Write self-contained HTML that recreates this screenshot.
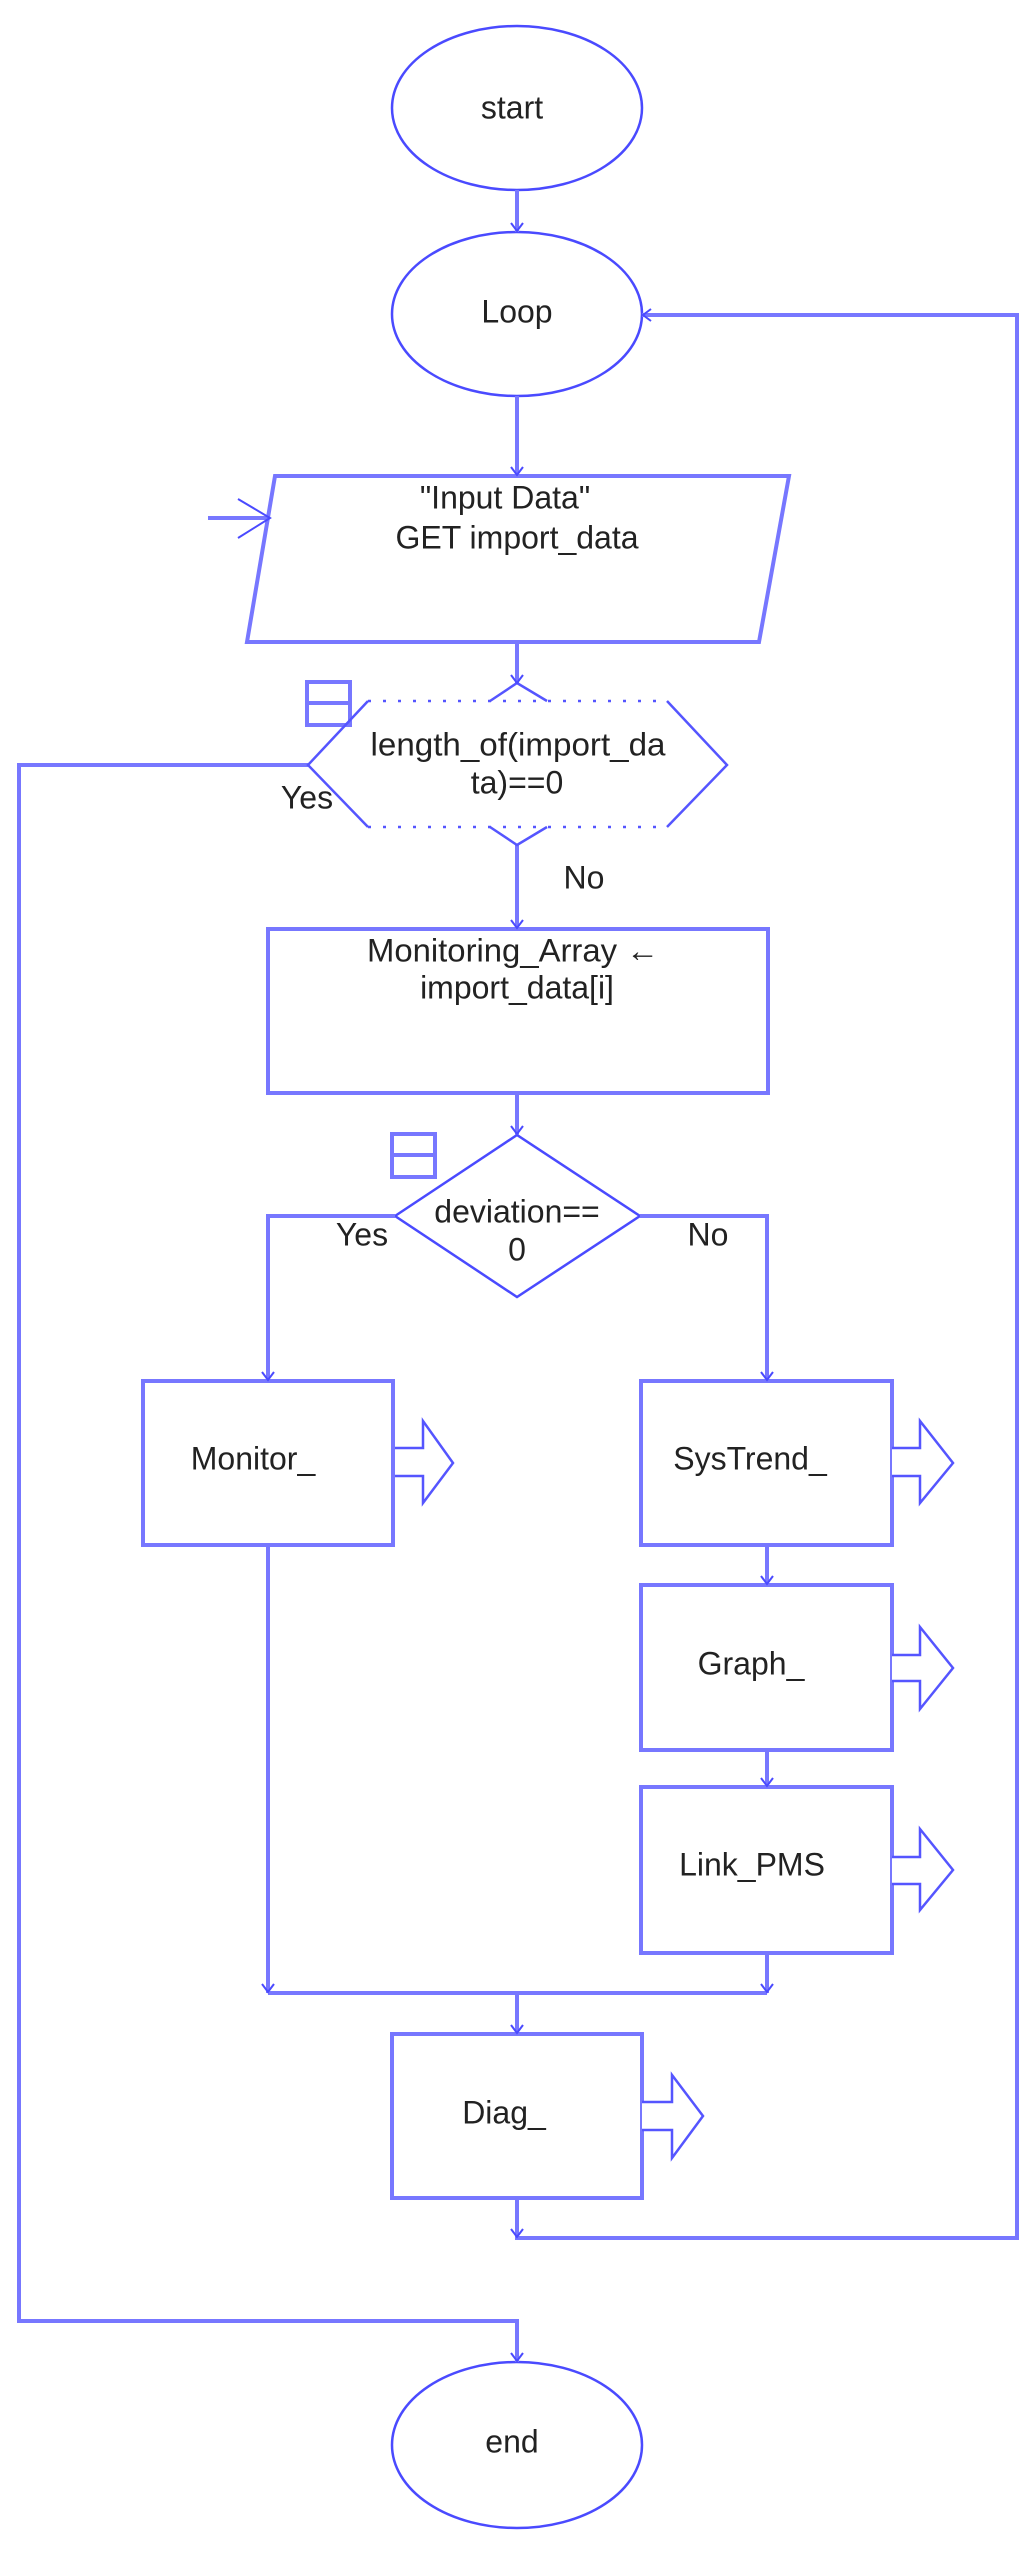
<!DOCTYPE html>
<html><head><meta charset="utf-8"><style>
html,body{margin:0;padding:0;background:#fff;}
svg{display:block;}
text{font-family:"Liberation Sans",Arial,sans-serif;font-size:32px;fill:#222;text-anchor:middle;dominant-baseline:middle;}
</style></head><body>
<svg width="1033" height="2553" viewBox="0 0 1033 2553" xmlns="http://www.w3.org/2000/svg">
<g fill="none" stroke="#4a4aff" stroke-width="2.5">
<ellipse cx="517" cy="108" rx="125" ry="82" fill="#fff"/>
<ellipse cx="517" cy="314" rx="125" ry="82" fill="#fff"/>
<ellipse cx="517" cy="2445" rx="125" ry="83" fill="#fff"/>
<polygon points="395,1216 517,1135 640,1216 517,1297"/>
</g>
<g fill="none" stroke="#7777ff" stroke-width="4">
<!-- connectors -->
<line x1="517" y1="190" x2="517" y2="232"/>
<line x1="517" y1="396" x2="517" y2="476"/>
<line x1="517" y1="642" x2="517" y2="683"/>
<line x1="517" y1="845" x2="517" y2="929"/>
<line x1="517" y1="1093" x2="517" y2="1135"/>
<polyline points="395,1216 268,1216 268,1381"/>
<polyline points="640,1216 767,1216 767,1381"/>
<line x1="767" y1="1545" x2="767" y2="1585"/>
<line x1="767" y1="1750" x2="767" y2="1787"/>
<line x1="268" y1="1545" x2="268" y2="1993"/>
<line x1="767" y1="1953" x2="767" y2="1993"/>
<line x1="268" y1="1993" x2="767" y2="1993"/>
<line x1="517" y1="1993" x2="517" y2="2034"/>
<polyline points="517,2198 517,2238 1017,2238 1017,315 642,315"/>
<polyline points="308,765 19,765 19,2321 517,2321 517,2362"/>
<line x1="208" y1="518" x2="270" y2="518"/>
<!-- shapes -->
<polygon points="275,476 789,476 759,642 247,642" fill="#fff"/>
<rect x="268" y="929" width="500" height="164" fill="#fff"/>
<rect x="143" y="1381" width="250" height="164" fill="#fff"/>
<rect x="641" y="1381" width="251" height="164" fill="#fff"/>
<rect x="641" y="1585" width="251" height="165" fill="#fff"/>
<rect x="641" y="1787" width="251" height="166" fill="#fff"/>
<rect x="392" y="2034" width="250" height="164" fill="#fff"/>
<!-- icons -->
<rect x="307" y="682" width="43" height="43"/><line x1="307" y1="703" x2="350" y2="703"/>
<rect x="392" y="1134" width="43" height="43"/><line x1="392" y1="1155" x2="435" y2="1155"/>
</g>
<!-- hexagon -->
<g fill="none" stroke="#5555ff" stroke-width="2.5">
<polyline points="368,701 308,765 368,827"/>
<polyline points="667,701 727,765 667,827"/>
<polyline points="490,701 517,683 547,701"/>
<polyline points="490,827 517,845 547,827"/>
<line x1="368" y1="701" x2="667" y2="701" stroke-dasharray="3,12"/>
<line x1="368" y1="827" x2="667" y2="827" stroke-dasharray="3,12"/>
</g>
<!-- small arrowheads -->
<g fill="none" stroke="#4a4aff" stroke-width="2">
<polyline points="511,223 517,231 523,223"/>
<polyline points="511,467 517,475 523,467"/>
<polyline points="511,675 517,683 523,675"/>
<polyline points="511,920 517,928 523,920"/>
<polyline points="511,1126 517,1134 523,1126"/>
<polyline points="262,1372 268,1380 274,1372"/>
<polyline points="761,1372 767,1380 773,1372"/>
<polyline points="761,1576 767,1584 773,1576"/>
<polyline points="761,1778 767,1786 773,1778"/>
<polyline points="262,1984 268,1992 274,1984"/>
<polyline points="761,1984 767,1992 773,1984"/>
<polyline points="511,2025 517,2033 523,2025"/>
<polyline points="511,2229 517,2237 523,2229"/>
<polyline points="511,2353 517,2361 523,2353"/>
<polyline points="651,309 643,315 651,321"/>
<polyline points="238,499 270,518 238,538"/>
</g>
<!-- fat arrows -->
<g fill="#fff" stroke="#5555ff" stroke-width="2.5">
<polyline points="395,1448 423,1448 423,1421 453,1463 423,1503 423,1476 395,1476"/>
<polyline points="892,1448 920,1448 920,1421 953,1463 920,1503 920,1476 892,1476"/>
<polyline points="892,1655 920,1655 920,1627 953,1668 920,1709 920,1681 892,1681"/>
<polyline points="892,1857 920,1857 920,1829 953,1870 920,1910 920,1884 892,1884"/>
<polyline points="642,2102 672,2102 672,2075 703,2116 672,2158 672,2130 642,2130"/>
</g>
<!-- text -->
<text x="512" y="110">start</text>
<text x="517" y="314">Loop</text>
<text x="505" y="500">"Input Data"</text>
<text x="517" y="540">GET import_data</text>
<text x="518" y="747" textLength="295" lengthAdjust="spacingAndGlyphs">length_of(import_da</text>
<text x="517" y="785">ta)==0</text>
<text x="307" y="800">Yes</text>
<text x="584" y="880">No</text>
<text x="513" y="953" textLength="292" lengthAdjust="spacingAndGlyphs">Monitoring_Array ←</text>
<text x="517" y="990">import_data[i]</text>
<text x="517" y="1214">deviation==</text>
<text x="517" y="1252">0</text>
<text x="362" y="1237">Yes</text>
<text x="708" y="1237">No</text>
<text x="253" y="1461">Monitor_</text>
<text x="750" y="1461">SysTrend_</text>
<text x="751" y="1666">Graph_</text>
<text x="752" y="1867">Link_PMS</text>
<text x="504" y="2115">Diag_</text>
<text x="512" y="2444">end</text>
</svg>
</body></html>
